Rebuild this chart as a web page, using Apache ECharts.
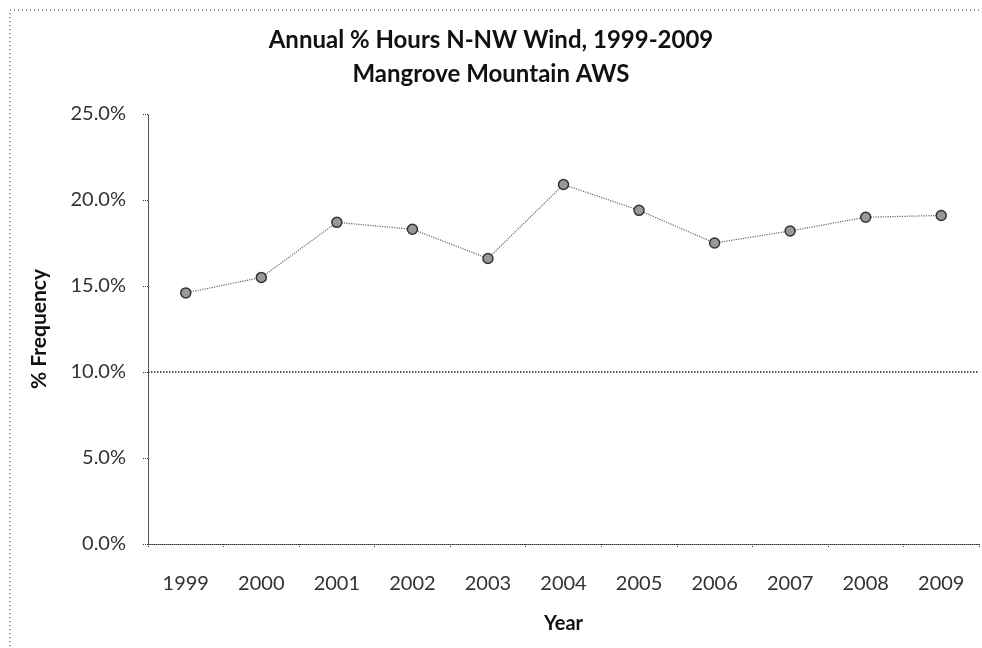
<!DOCTYPE html>
<html><head><meta charset="utf-8">
<script src="https://cdn.jsdelivr.net/npm/echarts@6/dist/echarts.min.js"></script>
<style>html,body{margin:0;padding:0;background:#fff}#c{width:982px;height:648px}</style>
</head><body><div id="c"></div>
<script>
const years = ['1999','2000','2001','2002','2003','2004','2005','2006','2007','2008','2009'];
const freq = [0.146,0.155,0.187,0.183,0.166,0.209,0.194,0.175,0.182,0.190,0.191];
const yTicks = {min:0, max:0.25, interval:0.05};
const refLine = 0.10;

const chart = echarts.init(document.getElementById('c'));
const font = 'Lato, "Open Sans", sans-serif';
chart.setOption({
  animation:false,
  backgroundColor:'#fff',
  graphic:[{type:'rect', shape:{x:10,y:10,width:980,height:660}, style:{fill:'none',stroke:'#333',lineWidth:1,lineDash:[1,3]}, silent:true}],
  title:{text:'Annual % Hours N-NW Wind, 1999-2009\nMangrove Mountain AWS', left:'center', top:18,
    textStyle:{fontFamily:font,fontSize:24,fontWeight:'bold',color:'#111',lineHeight:34}},
  grid:{left:148,right:3,top:114,bottom:104},
  xAxis:{type:'category',data:years,boundaryGap:true,
    name:'Year',nameLocation:'middle',nameGap:70,
    nameTextStyle:{fontFamily:font,fontSize:20,fontWeight:'bold',color:'#111'},
    axisLine:{lineStyle:{color:'#333',type:'dotted',width:1}},
    axisTick:{show:true,length:4,lineStyle:{color:'#333',type:'dotted'}},
    axisLabel:{fontFamily:font,fontSize:20,color:'#333',margin:30}},
  yAxis:{type:'value',min:yTicks.min,max:yTicks.max,interval:yTicks.interval,
    name:'% Frequency',nameLocation:'middle',nameGap:98,nameRotate:90,
    nameTextStyle:{fontFamily:font,fontSize:21,fontWeight:'bold',color:'#111'},
    axisLine:{show:true,lineStyle:{color:'#333',type:'dotted',width:1}},
    axisTick:{show:true,length:5,lineStyle:{color:'#333',type:'dotted'}},
    splitLine:{show:false},
    axisLabel:{fontFamily:font,fontSize:20,color:'#333',margin:22,
      formatter:v=>(v*100).toFixed(1)+'%'}},
  series:[{type:'line',data:freq,symbol:'circle',symbolSize:10,
    lineStyle:{color:'#666',width:1.2,type:'dotted'},
    itemStyle:{color:'#999',borderColor:'#333',borderWidth:1.5},
    markLine:{silent:true,symbol:'none',label:{show:false},
      lineStyle:{color:'#222',type:'dotted',width:1.5},
      data:[{yAxis:refLine}]}}]
});
</script></body></html>
